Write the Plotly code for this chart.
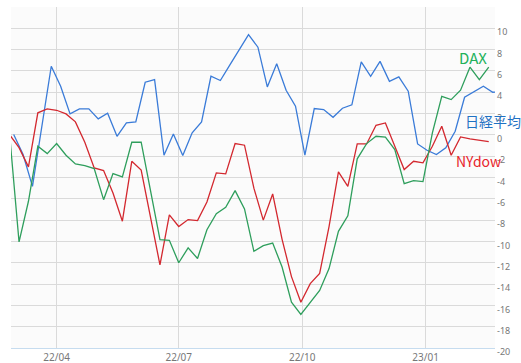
import plotly.graph_objects as go
import pandas as pd

# Weekly dates
us_de_dates = pd.date_range("2022-02-25", periods=52, freq="7D")
jp_dates = pd.date_range("2022-02-28", periods=53, freq="7D")

nydow = [0.0, -1.2, -3.0, 2.07, 2.44, 2.31, 1.97, 1.22, -0.69, -3.1,
         -3.35, -5.45, -8.1, -2.48, -3.3, -7.7, -12.2, -7.5, -8.6, -7.95,
         -8.05, -6.3, -3.57, -3.66, -0.82, -0.97, -5.0, -8.0, -5.54, -9.8,
         -13.3, -15.7, -13.96, -13.0, -8.6, -3.48, -4.83, -0.85, -0.85, 0.9,
         1.12, -1.07, -3.26, -2.48, -2.63, -1.07, 0.81, -1.91, -0.19, -0.38,
         -0.5, -0.63]

dax = [0.0, -10.05, -6.23, -1.07, -1.76, -0.82, -1.91, -2.72, -2.88, -3.16,
       -6.08, -3.63, -3.94, -0.69, -0.69, -5.3, -9.83, -9.9, -12.0, -10.6,
       -11.6, -8.9, -7.39, -6.8, -5.23, -6.95, -10.93, -10.4, -10.15, -12.4,
       -15.7, -16.85, -15.7, -14.6, -12.55, -9.05, -7.6, -2.25, -0.82, -0.13,
       -0.22, -1.38, -4.57, -4.29, -4.38, 0.19, 3.62, 3.31, 4.19, 6.35,
       5.19, 6.35]

nikkei = [0.03, -1.85, -4.83, 0.8, 6.44, 4.56, 1.97, 2.44, 2.44, 1.5,
          2.03, -0.13, 1.12, 1.22, 4.94, 5.19, -1.91, 0.09, -1.94, 0.19,
          1.22, 5.5, 5.1, 6.54, 7.94, 9.4, 8.23, 4.5, 6.67, 4.19,
          2.69, -1.91, 2.47, 2.38, 1.65, 2.5, 2.82, 6.85, 5.5, 6.9,
          5.03, 5.44, 4.1, -0.85, -1.44, -1.85, -1.22, 0.34, 3.53, 4.04,
          4.56, 4.0, 4.05]

x_tick_vals = ["2022-04-01", "2022-07-01", "2022-10-01", "2023-01-01"]
x_tick_text = ["22/04", "22/07", "22/10", "23/01"]
y_tick_vals = list(range(-20, 13, 2))
y_tick_text = [str(v) if v <= 10 else "" for v in y_tick_vals]

BLUE = "#3a7bd8"
RED = "#d3282f"
GREEN = "#2e9e5c"

fig = go.Figure()
fig.add_trace(go.Scatter(x=jp_dates, y=nikkei, mode="lines",
                         line=dict(color=BLUE, width=1.3), name="日経平均"))
fig.add_trace(go.Scatter(x=us_de_dates, y=nydow, mode="lines",
                         line=dict(color=RED, width=1.3), name="NYdow"))
fig.add_trace(go.Scatter(x=us_de_dates, y=dax, mode="lines",
                         line=dict(color=GREEN, width=1.3), name="DAX"))

label_font = "Noto Sans CJK JP"
fig.add_annotation(xref="paper", yref="paper", x=0.921, y=0.853, text="DAX",
                   showarrow=False, xanchor="left", yanchor="middle",
                   font=dict(family=label_font, size=15, color="#22b15a"))
fig.add_annotation(xref="paper", yref="paper", x=0.934, y=0.666, text="日経平均",
                   showarrow=False, xanchor="left", yanchor="middle",
                   font=dict(family=label_font, size=14, color="#1f72c4"))
fig.add_annotation(xref="paper", yref="paper", x=0.915, y=0.548, text="NYdow",
                   showarrow=False, xanchor="left", yanchor="middle",
                   font=dict(family=label_font, size=14, color="#e8232a"))

fig.update_layout(
    width=521, height=363,
    margin=dict(l=11, r=26, t=7, b=15, autoexpand=False),
    paper_bgcolor="white",
    plot_bgcolor="#fbfbfb",
    showlegend=False,
    font=dict(family="Noto Sans", size=9, color="#777777"),
    xaxis=dict(
        type="date",
        range=["2022-02-26", "2023-02-21 16:00"],
        tickvals=x_tick_vals, ticktext=x_tick_text,
        showgrid=True, gridcolor="#dadada", gridwidth=1.3,
        showline=True, linecolor="#c6dcef", linewidth=1,
        ticks="", zeroline=False, automargin=False,
        tickfont=dict(size=10, color="#777777"),
    ),
    yaxis=dict(
        side="right",
        range=[-20, 12],
        tickvals=y_tick_vals, ticktext=y_tick_text,
        showgrid=True, gridcolor="#dadada", gridwidth=1.3,
        zeroline=False, ticks="", automargin=False,
        ticklabelshift=4, ticklabelstandoff=1,
        tickfont=dict(size=9, color="#777777"),
    ),
)

fig.write_html("out.html")
